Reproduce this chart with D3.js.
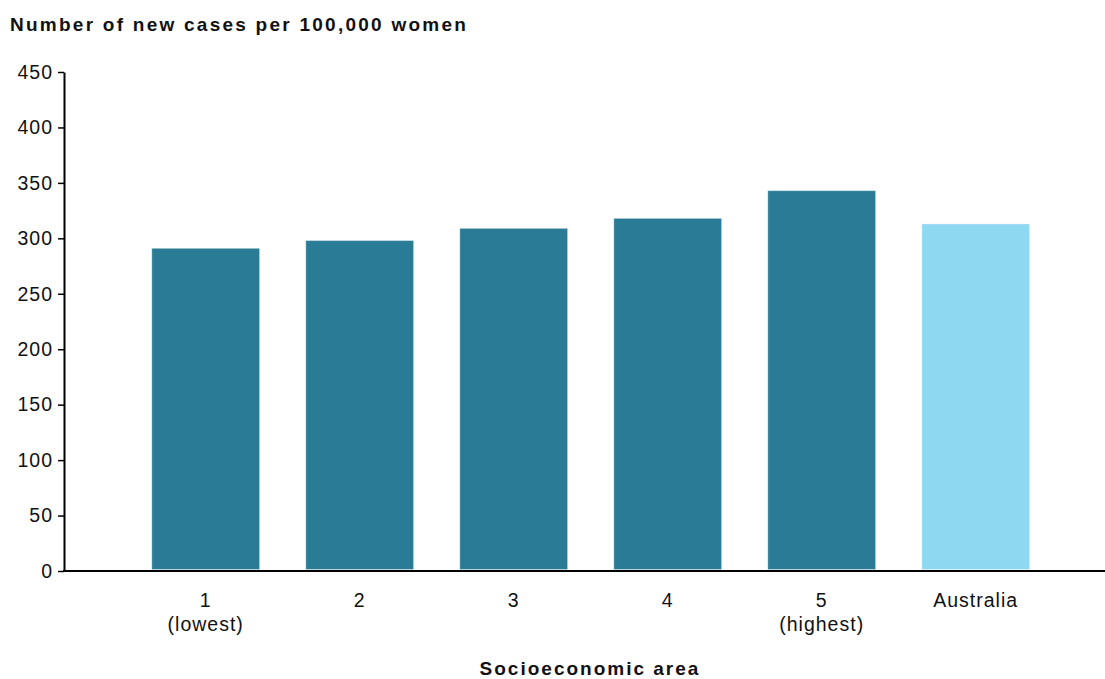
<!DOCTYPE html>
<html>
<head>
<meta charset="utf-8">
<script src="https://cdn.jsdelivr.net/npm/d3@7"></script>
<style>
  body { margin: 0; background: #fff; }
  svg { display: block; font-family: "Liberation Sans", Arial, sans-serif; }
</style>
</head>
<body>
<svg id="chart" width="1105" height="679"></svg>
<script>
const categories = ["1", "2", "3", "4", "5", "Australia"];
const subLabels = ["(lowest)", "", "", "", "(highest)", ""];
const values = [291, 298, 309, 318, 343, 313];
const yTicks = [0, 50, 100, 150, 200, 250, 300, 350, 400, 450];
const yTitle = "Number of new cases per 100,000 women";
const xTitle = "Socioeconomic area";

const svg = d3.select("#chart");
const axisX0 = 64, axisX1 = 1105;
const y = d3.scaleLinear().domain([0, 450]).range([571, 72]);
const x = d3.scaleBand().domain(categories).range([128.7, 1052.7])
  .paddingInner(0.3).paddingOuter(0.15);

const colorFor = c => c === "Australia" ? "#8fd8f1" : "#2a7c96";

// bars
svg.append("g").selectAll("rect").data(categories).join("rect")
  .attr("x", d => x(d))
  .attr("width", x.bandwidth())
  .attr("y", (d, i) => y(values[i]))
  .attr("height", (d, i) => y(0) - 1.5 - y(values[i]))
  .attr("fill", d => colorFor(d))
  .attr("stroke", "rgba(255,255,255,0.35)")
  .attr("stroke-width", 1);

// y axis
const yAxis = svg.append("g").attr("transform", `translate(${axisX0},0)`)
  .call(d3.axisLeft(y).tickValues(yTicks).tickSize(6).tickSizeOuter(0).tickPadding(5));
yAxis.select(".domain").attr("stroke", "#000").attr("stroke-width", 2);
yAxis.selectAll(".tick line").attr("stroke", "#000").attr("stroke-width", 1.5);
yAxis.selectAll(".tick text")
  .attr("font-size", 19.5).attr("fill", "#111")
  .attr("font-family", "Liberation Sans, Arial, sans-serif")
  .style("letter-spacing", "1px");

// x axis line
svg.append("line")
  .attr("x1", axisX0 - 1).attr("x2", axisX1)
  .attr("y1", y(0)).attr("y2", y(0))
  .attr("stroke", "#000").attr("stroke-width", 2);

// x tick labels
const xl = svg.append("g").selectAll("g").data(categories).join("g")
  .attr("transform", d => `translate(${x(d) + x.bandwidth() / 2},0)`);
xl.append("text")
  .attr("y", 607).attr("text-anchor", "middle")
  .attr("font-size", 19.5).attr("fill", "#111")
  .style("letter-spacing", "1px")
  .text(d => d);
xl.append("text")
  .attr("y", 631).attr("text-anchor", "middle")
  .attr("font-size", 19.5).attr("fill", "#111")
  .style("letter-spacing", "1px")
  .text((d, i) => subLabels[i]);

// titles
svg.append("text")
  .attr("x", 10).attr("y", 31)
  .attr("font-size", 19).attr("font-weight", "bold").attr("fill", "#111")
  .style("letter-spacing", "2.25px")
  .text(yTitle);

svg.append("text")
  .attr("x", 590).attr("y", 675).attr("text-anchor", "middle")
  .attr("font-size", 19).attr("font-weight", "bold").attr("fill", "#111")
  .style("letter-spacing", "2px")
  .text(xTitle);
</script>
</body>
</html>
